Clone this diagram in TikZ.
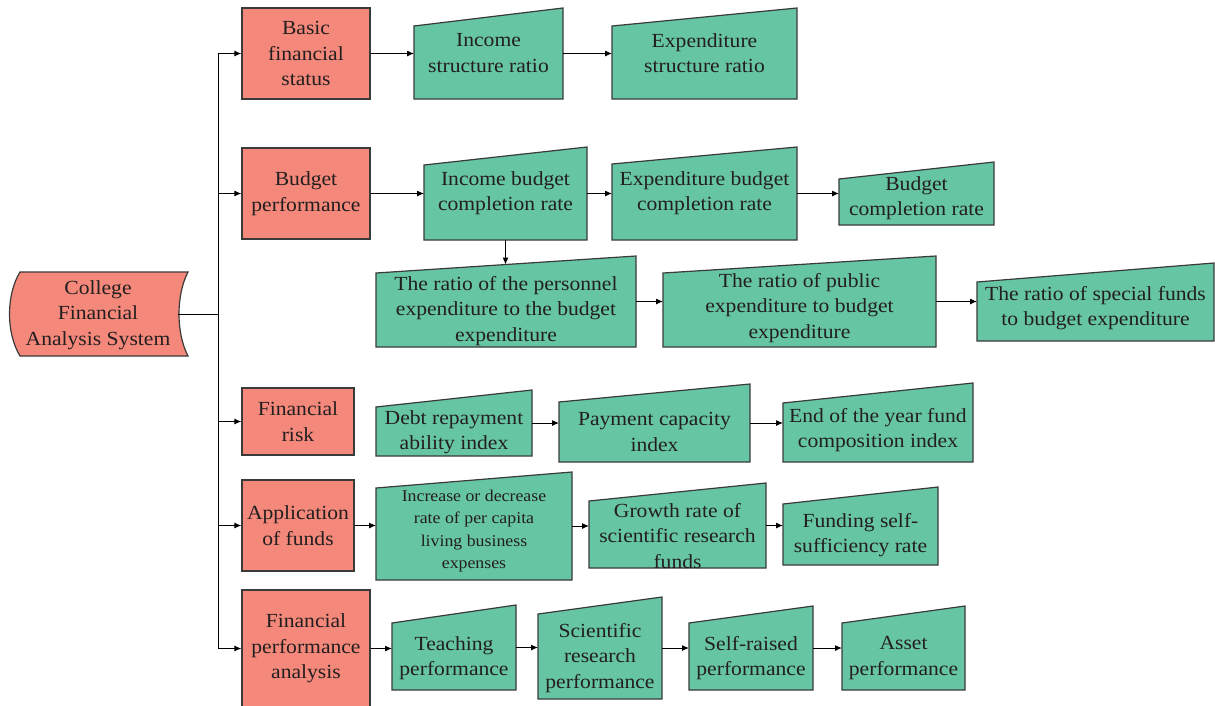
\documentclass[tikz,border=0pt]{standalone}
\usepackage{fontspec}
\setmainfont{Liberation Serif}[FakeStretch=1.08]
\usetikzlibrary{arrows.meta}

\definecolor{salmon}{HTML}{F4887A}
\definecolor{mint}{HTML}{66C5A2}
\definecolor{edge}{HTML}{3A3A3A}
\definecolor{ink}{HTML}{231F20}

\tikzset{
  base font/.style={font=\fontsize{20}{25.5}\selectfont, text=ink},
  redbox/.style={base font, draw=edge, fill=salmon, line width=1.2pt,
    align=center, inner sep=0pt},
  mintshape/.style={draw=edge, fill=mint, line width=1.2pt, line join=miter},
  frame/.style={inner sep=0pt, outer sep=0pt, draw=none},
  greentext/.style={base font, align=center, inner sep=0pt},
  smalltext/.style={font=\fontsize{16.5}{22.5}\selectfont, text=ink, align=center, inner sep=0pt},
  link/.style={draw=black, line width=1pt},
  arr/.style={link, -{Latex[length=7pt,width=6pt]}}
}

% manual-input box: name, left x, right x, top-left y, top-right y, bottom y, text y, text style, text
\newcommand\inputbox[9]{%
  \path[mintshape] (#2,#6) -- (#2,#4) -- (#3,#5) -- (#3,#6) -- cycle;
  \node[frame, minimum width={(#3-#2)*1pt}, minimum height={(#6-#5)*1pt}]
    (#1) at ({(#2+#3)/2},{(#5+#6)/2}) {};
  \coordinate (#1-top) at ({(#2+#3)/2},{(#4+#5)/2});
  \node[#8] (#1-t) at ({(#2+#3)/2},#7) {#9};
}

\begin{document}
\begin{tikzpicture}[x=1pt, y=-1pt]
\useasboundingbox (0,0) rectangle (1215,705);

% root: stored-data shape
\path[draw=edge, fill=salmon, line width=1.2pt]
  (20,272) -- (188,272) .. controls (176,295) and (176,333) .. (188,356)
  -- (20,356) .. controls (6,333) and (6,295) .. (20,272) -- cycle;
\node[base font, align=center, inner sep=0pt] (root) at (98,315)
  {College\\Financial\\Analysis System};
\coordinate (root-e) at (178,314.5);
\coordinate (trunk) at (218,314.5);

% category boxes
\node[redbox, minimum width=128pt, minimum height=91pt] (b1) at (306,53.5) {Basic\\financial\\status};
\node[redbox, minimum width=128pt, minimum height=91pt] (b2) at (306,193.5) {Budget\\performance};
\node[redbox, minimum width=112pt, minimum height=67pt] (b3) at (298,421.5) {Financial\\risk};
\node[redbox, minimum width=112pt, minimum height=91pt] (b4) at (298,525.5) {Application\\of funds};
\node[redbox, minimum width=128pt, minimum height=117pt] (b5) at (306,648.5) {Financial\\performance\\analysis};

% indicators
\inputbox{g11}{414}{563}{26}{8}{99}{53}{greentext}{Income\\structure ratio}
\inputbox{g12}{612}{797}{26}{8}{99}{53}{greentext}{Expenditure\\structure ratio}

\inputbox{g21}{424}{587}{165}{147}{240}{193}{greentext}{Income budget\\completion rate}
\inputbox{g22}{612}{797}{164}{147}{240}{193}{greentext}{Expenditure budget\\completion rate}
\inputbox{g23}{839}{994}{179}{162}{225}{198}{greentext}{Budget\\completion rate}

\inputbox{g31}{376}{636}{273}{256}{347}{311}{greentext}{The ratio of the personnel\\expenditure to the budget\\expenditure}
\inputbox{g32}{663}{936}{273}{256}{347}{308}{greentext}{The ratio of public\\expenditure to budget\\expenditure}
\inputbox{g33}{977}{1214}{282}{263}{341}{308}{greentext}{The ratio of special funds\\to budget expenditure}

\inputbox{g41}{376}{532}{407}{390}{456}{432}{greentext}{Debt repayment\\ability index}
\inputbox{g42}{559}{750}{402}{384}{462}{432}{greentext}{Payment capacity\\index}
\inputbox{g43}{783}{973}{403}{383}{462}{430}{greentext}{End of the year fund\\composition index}

\inputbox{g51}{376}{572}{488}{472}{580}{531}{smalltext}{Increase or decrease\\rate of per capita\\living business\\expenses}
\inputbox{g52}{589}{766}{501}{483}{568}{536}{greentext}{Growth rate of\\scientific research\\funds}
\inputbox{g53}{783}{938}{504}{487}{565}{535}{greentext}{Funding self-\\sufficiency rate}

\inputbox{g61}{392}{516}{623}{605}{690}{658}{greentext}{Teaching\\performance}
\inputbox{g62}{538}{662}{614}{597}{699}{658}{greentext}{Scientific\\research\\performance}
\inputbox{g63}{689}{813}{623}{606}{690}{658}{greentext}{Self-raised\\performance}
\inputbox{g64}{842}{965}{623}{606}{690}{658}{greentext}{Asset\\performance}

% trunk from the root to the categories
\draw[link] (root-e) -- (trunk);
\draw[link] (trunk |- b1.west) -- (trunk |- b5.west);
\foreach \b in {b1,b2,b3,b4,b5}
  \draw[arr] (trunk |- \b.west) -- (\b.west);

% chains of indicators
\foreach \a/\b in {b1/g11, g11/g12,
                   b2/g21, g21/g22, g22/g23,
                   g31/g32, g32/g33,
                   g41/g42, g42/g43,
                   b4/g51, g51/g52, g52/g53,
                   b5/g61, g61/g62, g62/g63, g63/g64}
  \draw[arr] (\a.east) -- (\a.east -| \b.west);
\draw[arr] (g21.south) -- (g21.south |- g31-top);
\end{tikzpicture}
\end{document}
